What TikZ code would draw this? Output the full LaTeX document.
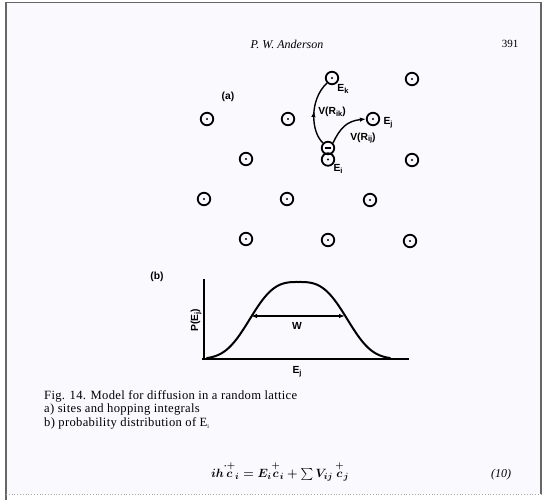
\documentclass[tikz,border=0pt]{standalone}
\usepackage{amsmath}
\usepackage{fontspec}
\setmainfont{Liberation Serif}
\setsansfont{Liberation Sans}
\newfontfamily\capfont[LetterSpace=2.5]{Liberation Serif}
\usetikzlibrary{arrows.meta,decorations.markings}
\definecolor{paper}{RGB}{250,249,253}
\newcommand{\lsub}[1]{\raisebox{-0.35ex}{\fontsize{7.5}{8}\selectfont #1}}
\newcommand{\plusc}[1]{\overset{\raisebox{1.5pt}{$\scriptstyle #1$}}{c}}
\begin{document}
\begin{tikzpicture}[x=1pt,y=-1pt,
  site/.style={circle,draw,line width=1.8pt,minimum size=12.5pt,inner sep=0pt,
    path picture={\fill (path picture bounding box.center) circle (1.1pt);}},
  minussite/.style={circle,draw,line width=1.8pt,minimum size=12.5pt,inner sep=0pt,
    path picture={\draw[line width=1.7pt] ([xshift=-3.2pt]path picture bounding box.center) -- ([xshift=3.2pt]path picture bounding box.center);}},
  lab/.style={font=\sffamily\bfseries\fontsize{10.3}{12}\selectfont,inner sep=0pt},
  hop/.style={line width=1.4pt},
  tip/.style={-{Latex[length=6pt,width=4.5pt]}},
  captext/.style={font=\capfont\fontsize{12.6}{14}\selectfont,inner sep=0pt,anchor=west},
  axisline/.style={line width=1.4pt}
]
\useasboundingbox (0,0) rectangle (544,500);
% page frame
\fill[white] (0,0) rectangle (544,500);
\fill[paper] (6,2.5) rectangle (541,494);
\draw[gray!80!black,line width=1.2pt] (6,500) -- (6,2.5) -- (541,2.5) -- (541,494);
\draw[gray!70,line width=0.8pt,dotted] (6,494.5) -- (541,494.5);
% header
\node[font=\itshape\fontsize{12}{14}\selectfont] (hdr) at (287,44) {P. W. Anderson};
\node[font=\fontsize{11}{13}\selectfont] (pg) at (510,44) {391};
% (a) lattice
\node[lab] (la) at (228,97) {(a)};
\node[site] (ek) at (332,78) {};
\node[site] (s12) at (412,79) {};
\node[site] (s21) at (207,119) {};
\node[site] (s22) at (288,119) {};
\node[site] (ej) at (373,119) {};
\node[site] (s31) at (246,159) {};
\node[site] (ei) at (328,159.5) {};
\node[minussite] (eiu) at (328,148) {};
\node[site] (s33) at (412,160) {};
\node[site] (s41) at (204,199) {};
\node[site] (s42) at (287,199) {};
\node[site] (s43) at (370,200) {};
\node[site] (s51) at (246,239) {};
\node[site] (s52) at (328,240) {};
\node[site] (s53) at (410,241) {};
% hopping arrows
\draw[hop,postaction={decorate,decoration={markings,mark=at position 0.52 with {\arrow{Latex[length=6pt,width=4.5pt]}}}}]
  (eiu.north west) .. controls (311,132) and (309,100) .. (ek.south west);
\draw[hop,tip] (eiu.north east) .. controls (340,128) and (347,121) .. (ej.west);
\node[lab] (lek) at (343,89) {E\lsub{k}};
\node[lab] (lej) at (388,123) {E\lsub{j}};
\node[lab] (lei) at (338,169) {E\lsub{i}};
\node[lab] (lvik) at (332,112) {V(R\lsub{ik})};
\node[lab] (lvij) at (363,138) {V(R\lsub{ij})};
% (b) distribution
\node[lab] (lb) at (157,277) {(b)};
\coordinate (ytop) at (204,279);
\coordinate (orig) at (204,359);
\coordinate (xl) at (202,359);
\coordinate (xr) at (409,359);
\draw[axisline] (ytop) -- (orig);
\draw[axisline] (xl) -- (xr);
\draw[line width=2pt] plot[domain=-92:92,samples=120,smooth] ({298.5+\x},{359-77*exp(-((abs(\x)/56)^3.0))});
\coordinate (wl) at (251,316);
\coordinate (wr) at (345,316);
\draw[line width=1.2pt,{Latex[length=6pt,width=4.5pt]}-{Latex[length=6pt,width=4.5pt]}] (wl) -- (wr);
\node[lab] (lw) at (297,326) {W};
\node[lab,rotate=90] (lp) at (196,320) {P(E\lsub{j})};
\node[lab] (lx) at (297,372) {E\lsub{j}};
% caption
\node[captext] (c1) at (44,396) {Fig. 14. Model for diffusion in a random lattice};
\node[captext] (c2) at (44,409.5) {a) sites and hopping integrals};
\node[captext] (c3) at (44,423) {b) probability distribution of E\raisebox{-0.4ex}{\fontsize{6}{7}\selectfont i}};
% equation
\node[font=\fontsize{12.6}{15}\selectfont\boldmath,inner sep=0pt] (eq) at (280,471)
  {$ih\plusc{\cdot+}_{i}=E_{i}\plusc{+}_{i}+\sum V_{ij}\,\plusc{+}_{j}$};
\node[font=\itshape\fontsize{12}{14}\selectfont] (eqn) at (501,475) {(10)};
\end{tikzpicture}
\end{document}
